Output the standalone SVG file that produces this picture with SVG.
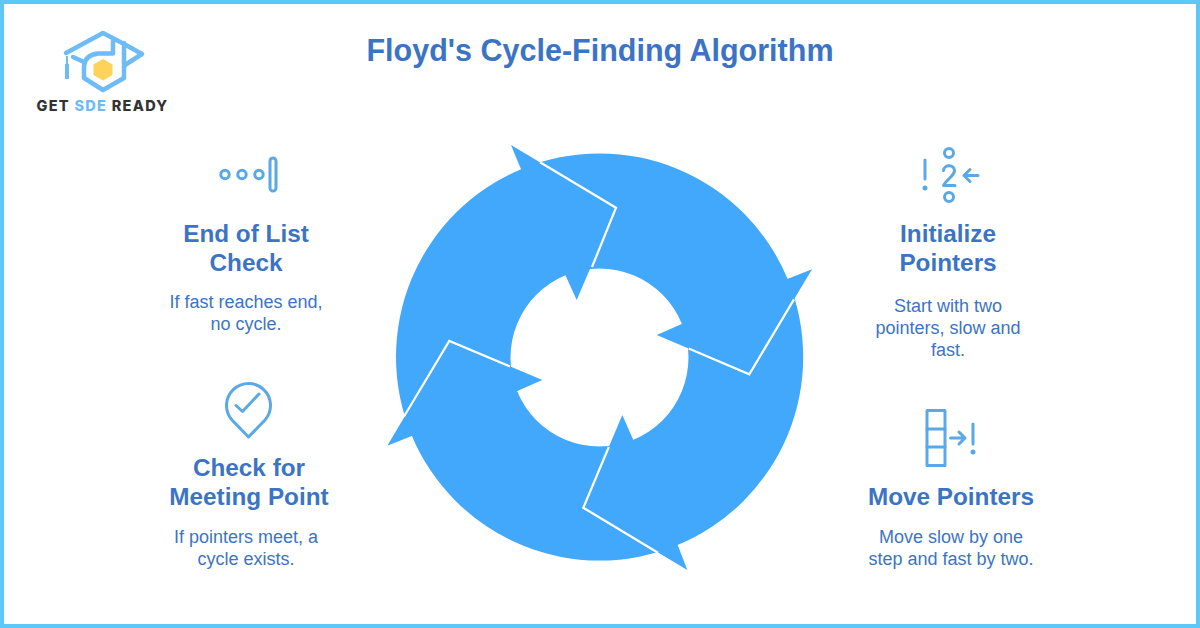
<svg xmlns="http://www.w3.org/2000/svg" width="1200" height="628" viewBox="0 0 1200 628">
<style>
text{font-family:"Liberation Sans",Arial,sans-serif;text-anchor:middle;fill:#3b74c4}
.t{font-size:30.500px;font-weight:700}
.h{font-size:24.300px;font-weight:700}
.b{font-size:18px}
.a{fill:#42a8fc}
.s{fill:none;stroke:#fff;stroke-width:2.200}
.i{fill:none;stroke:#5aa9e6;stroke-width:3;stroke-linecap:round;stroke-linejoin:round}
.d{fill:#5aa9e6}
.l{fill:none;stroke:#6dbbf7;stroke-width:4.500;stroke-linecap:round;stroke-linejoin:round}
</style>
<rect width="1200" height="628" fill="#fff"/>
<rect x="2" y="2" width="1196" height="624" fill="none" stroke="#5cc8fa" stroke-width="4"/>
<g id="logo">
<path class="l" d="M66 53 L103 33 L124 44 L142 54 L125 65 M124 43 V78 L103 90 L84 78 V66 Q85 55 98 53.500 L113 53.500 M113 41 V53 M73 57 L84 62"/>
<polygon points="103,59 112.500,64.500 112.500,75 103,80.500 93.500,75 93.500,64.500" fill="#fdd35c"/>
<path d="M67 56 V66" stroke="#6dbbf7" stroke-width="2" fill="none"/>
<path d="M67 64 V79" stroke="#6dbbf7" stroke-width="4" fill="none"/>
<text x="102.500" y="110.500" style="font-family:Inter,'Liberation Sans',sans-serif;font-size:14.500px;font-weight:800;fill:#333;letter-spacing:1.300px">GET <tspan style="fill:#6dbbf7">SDE</tspan> READY</text>
</g>
<text class="t" x="600" y="61">Floyd's Cycle-Finding Algorithm</text>
<g id="cycle">
<path class="a" fill-rule="evenodd" d="M396 357a203.600 203.600 0 1 0 407.200 0a203.600 203.600 0 1 0-407.200 0ZM510.500 357.500a89 89 0 1 1 178 0a89 89 0 1 1-178 0Z"/>
<polygon class="a" points="511,145 616,207.700 576.700,300 565.300,275 521.300,170"/>
<polygon class="a" points="812,269.300 749.300,374.300 656.700,335 681.700,324 787.300,279"/>
<polygon class="a" points="687.300,570 583.300,507.700 622.300,415 633.300,440 677.700,545"/>
<polygon class="a" points="387.300,445.700 449.300,341 542.300,380 517.300,391 411.700,436"/>
<polyline class="s" points="540,162.300 616,207.700 592,267"/>
<polyline class="s" points="794,299.400 749.300,374.300 688.700,348.600"/>
<polyline class="s" points="658,552.700 583.300,507.700 608.800,447"/>
<polyline class="s" points="404,416.500 449.300,341 510,366.500"/>
</g>
<g id="node-init">
<circle class="i" cx="949" cy="153" r="4.500"/><circle class="i" cx="949" cy="197" r="4.500"/>
<path class="i" d="M925 160V179M943.500 170.500C944 164 955 164 954.500 171C954 176 946 180 943.500 185.500H955M978 175.500H964M970 169.500L964 175.500L970 181.500"/>
<circle class="d" cx="925" cy="188" r="2.500"/>
<text class="h" x="948" y="242">Initialize</text><text class="h" x="948" y="271">Pointers</text>
<text class="b" x="948" y="312">Start with two</text><text class="b" x="948" y="334">pointers, slow and</text><text class="b" x="948" y="356">fast.</text>
</g>
<g id="node-move">
<rect class="i" x="927" y="410.500" width="18" height="55"/>
<path class="i" d="M927 429H945M927 447H945M950.500 438H965M959 432L965 438L959 444M973 424V444"/>
<circle class="d" cx="973" cy="452" r="2.500"/>
<text class="h" x="951" y="505">Move Pointers</text>
<text class="b" x="951" y="543">Move slow by one</text><text class="b" x="951" y="565">step and fast by two.</text>
</g>
<g id="node-meet">
<path class="i" d="M248.500 437L232 420A22 22 0 1 1 265 420Z"/>
<path class="i" d="M236 405.500L242.500 411.500L259 394"/>
<text class="h" x="249" y="476">Check for</text><text class="h" x="249" y="505">Meeting Point</text>
<text class="b" x="246" y="543">If pointers meet, a</text><text class="b" x="246" y="565">cycle exists.</text>
</g>
<g id="node-end">
<circle class="i" cx="225" cy="174.500" r="4.200"/><circle class="i" cx="242" cy="174.500" r="4.200"/><circle class="i" cx="259" cy="174.500" r="4.200"/>
<rect class="i" x="270" y="158" width="6" height="33" rx="3"/>
<text class="h" x="246" y="242">End of List</text><text class="h" x="246" y="271">Check</text>
<text class="b" x="246" y="308">If fast reaches end,</text><text class="b" x="246" y="330">no cycle.</text>
</g>
</svg>
